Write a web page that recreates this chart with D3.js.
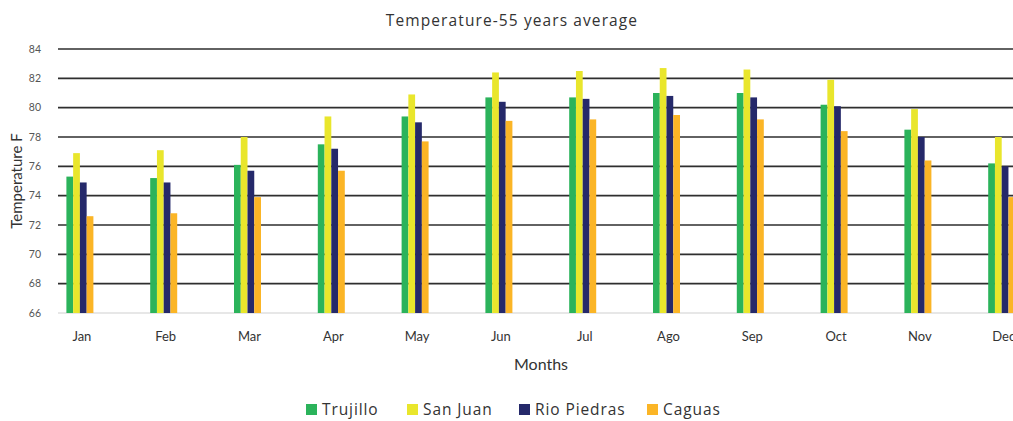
<!DOCTYPE html>
<html>
<head>
<meta charset="utf-8">
<script src="https://cdn.jsdelivr.net/npm/d3@7"></script>
<style>
  body { margin: 0; background: #fff; }
  svg { display: block; font-family: Lato, "Open Sans", sans-serif; }
</style>
</head>
<body>
<div class="chart"></div>
<script>
const months = ['Jan','Feb','Mar','Apr','May','Jun','Jul','Ago','Sep','Oct','Nov','Dec'];
const seriesNames = ['Trujillo','San Juan','Rio Piedras','Caguas'];
const trujillo   = [75.3, 75.2, 76.1, 77.5, 79.4, 80.7, 80.7, 81.0, 81.0, 80.2, 78.5, 76.2];
const sanJuan    = [76.9, 77.1, 78.0, 79.4, 80.9, 82.4, 82.5, 82.7, 82.6, 81.9, 79.9, 78.0];
const rioPiedras = [74.9, 74.9, 75.7, 77.2, 79.0, 80.4, 80.6, 80.8, 80.7, 80.1, 78.0, 76.0];
const caguas     = [72.6, 72.8, 73.9, 75.7, 77.7, 79.1, 79.2, 79.5, 79.2, 78.4, 76.4, 73.9];
const yTicks = [66, 68, 70, 72, 74, 76, 78, 80, 82, 84];
const colors = ['#2bb35b', '#e9e62c', '#25296a', '#fbb526'];

const allSeries = [trujillo, sanJuan, rioPiedras, caguas];

const width = 1013;
const height = 421;
const svg = d3.select('.chart')
  .append('svg')
  .attr('width', width)
  .attr('height', height);

// scales
const x = d3.scaleBand()
  .domain(months)
  .range([38, 38 + 12 * 83.8]);

const xInner = d3.scaleBand()
  .domain(seriesNames)
  .range([0, 27]);

const y = d3.scaleLinear()
  .domain([66, 84])
  .range([313, 49]);

// grid lines
svg.selectAll('line.grid')
  .data(yTicks.filter(d => d > 66))
  .enter()
  .append('line')
  .attr('class', 'grid')
  .attr('x1', 58)
  .attr('x2', width)
  .attr('y1', d => y(d))
  .attr('y2', d => y(d))
  .attr('stroke', '#2e2e2e')
  .attr('stroke-width', 1.6);

// base line
svg.append('line')
  .attr('x1', 58)
  .attr('x2', width)
  .attr('y1', y(66))
  .attr('y2', y(66))
  .attr('stroke', '#cfcfcf')
  .attr('stroke-width', 1);

// y tick labels
svg.selectAll('text.ytick')
  .data(yTicks)
  .enter()
  .append('text')
  .attr('class', 'ytick')
  .text(d => d)
  .attr('x', 41)
  .attr('y', d => y(d) + 3.5)
  .attr('text-anchor', 'end')
  .attr('font-size', 10.5)
  .attr('fill', '#555');

// bars
const groups = svg.selectAll('g.month')
  .data(months)
  .enter()
  .append('g')
  .attr('class', 'month')
  .attr('transform', d => `translate(${x(d) + x.bandwidth() / 2 - 13.5},0)`);

groups.selectAll('rect')
  .data((m, i) => seriesNames.map((s, j) => ({ series: s, value: allSeries[j][i], color: colors[j] })))
  .enter()
  .append('rect')
  .attr('x', d => xInner(d.series))
  .attr('width', xInner.bandwidth())
  .attr('y', d => y(d.value))
  .attr('height', d => y(66) - y(d.value))
  .attr('fill', d => d.color);

// x labels
svg.selectAll('text.xtick')
  .data(months)
  .enter()
  .append('text')
  .attr('class', 'xtick')
  .text(d => d)
  .attr('x', d => x(d) + x.bandwidth() / 2 + 2)
  .attr('y', 341)
  .attr('text-anchor', 'middle')
  .attr('font-size', 13)
  .attr('fill', '#333');

// title
svg.append('text')
  .text('Temperature-55 years average')
  .attr('x', 512)
  .attr('y', 26)
  .attr('text-anchor', 'middle')
  .attr('font-family', '"Open Sans", sans-serif')
  .attr('font-size', 15.5)
  .attr('letter-spacing', 1.1)
  .attr('fill', '#333');

// axis titles
svg.append('text')
  .text('Months')
  .attr('x', 541)
  .attr('y', 370)
  .attr('text-anchor', 'middle')
  .attr('font-size', 16)
  .attr('fill', '#333');

svg.append('text')
  .text('Temperature F')
  .attr('transform', 'translate(22,181) rotate(-90)')
  .attr('text-anchor', 'middle')
  .attr('font-size', 15)
  .attr('fill', '#333');

// legend
const legendX = [306, 407, 519, 647];
const legend = svg.selectAll('g.legend')
  .data(seriesNames)
  .enter()
  .append('g')
  .attr('class', 'legend')
  .attr('transform', (d, i) => `translate(${legendX[i]},404)`);

legend.append('rect')
  .attr('width', 11)
  .attr('height', 11)
  .attr('fill', (d, i) => colors[i]);

legend.append('text')
  .text(d => d)
  .attr('x', 16)
  .attr('y', 11)
  .attr('font-family', '"Open Sans", sans-serif')
  .attr('font-size', 15.5)
  .attr('letter-spacing', 0.9)
  .attr('fill', '#333');
</script>
</body>
</html>
